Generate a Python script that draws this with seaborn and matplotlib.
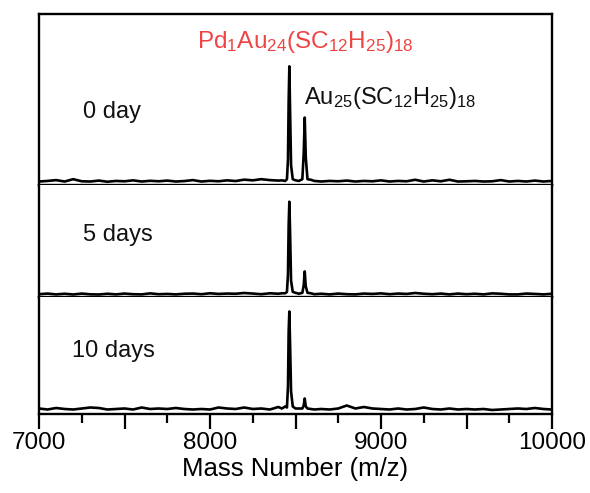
import numpy as np
import pandas as pd
import matplotlib
matplotlib.use("Agg")
import matplotlib.pyplot as plt
import seaborn as sns
from matplotlib.ticker import MultipleLocator, FuncFormatter

sns.set_style("ticks")
plt.rcParams['font.family'] = ['Liberation Sans', 'DejaVu Sans']
plt.rcParams['mathtext.fontset'] = 'custom'
plt.rcParams['mathtext.rm'] = 'Liberation Sans'
plt.rcParams['mathtext.it'] = 'Liberation Sans:italic'
plt.rcParams['mathtext.bf'] = 'Liberation Sans:bold'
plt.rcParams['text.color'] = 'black'
plt.rcParams['axes.labelcolor'] = 'black'
plt.rcParams['xtick.color'] = 'black'

# ---- data ----
mz_low = np.arange(7000, 8401, 50)
mz_peak = [8420, 8440, 8450, 8456, 8460, 8464, 8468, 8474, 8484, 8500,
           8520, 8540, 8548, 8554, 8560, 8570, 8590, 8610]
mz_high = np.arange(8650, 10001, 50)
mz = np.concatenate([mz_low, mz_peak, mz_high])

day0 = ([1.0, 1.5, 2.2, 1.0, 3.0, 1.2, 1.0, 1.8, 0.8, 1.5, 1.2, 2.0, 1.0, 1.6, 1.2,
         1.8, 1.0, 1.4, 2.2, 1.0, 1.6, 1.2, 2.0, 1.4, 2.6, 2.0, 3.0, 2.2, 1.8]
        + [2.0, 1.5, 3, 20, 70, 100, 65, 15, 3, 2, 1.5, 3, 25, 56, 22, 3, 2.5, 1.5]
        + [1.0, 1.5, 1.2, 1.8, 1.0, 1.5, 1.2, 2.0, 1.0, 1.5, 1.2, 2.5, 1.0, 2.0,
           1.2, 2.5, 1.0, 1.2, 1.5, 1.0, 1.2, 2.2, 1.0, 1.5, 1.0, 1.8, 1.0, 1.5])
day5 = ([0.5, 1.2, 0.3, 1.0, 0.2, 1.2, 0.4, 0.2, 1.0, 0.3, 1.2, 0.5, 0.3, 1.4, 0.5,
         0.8, 0.3, 1.0, 1.2, 0.5, 1.5, 0.8, 1.2, 1.0, 1.8, 1.2, 0.5, 1.5, 1.0]
        + [1.5, 1.5, 3, 22, 75, 100, 70, 15, 3, 2, 1, 2, 10, 25, 9, 2, 1.5, 0.5]
        + [1.0, 0.3, 1.2, 0.5, 0.3, 1.2, 0.8, 1.4, 0.5, 1.2, 0.8, 1.8, 1.0, 0.5,
           1.2, 0.3, 1.2, 0.5, 1.0, 0.3, 1.4, 1.0, 0.3, 0.3, 1.2, 0.8, 0.3, 1.0])
day10 = ([3.0, 2.0, 3.5, 2.5, 2.0, 3.0, 4.0, 3.5, 2.0, 2.5, 3.0, 2.0, 4.0, 2.5, 3.0,
          2.5, 3.5, 2.5, 2.0, 2.5, 2.0, 4.0, 3.0, 2.5, 4.0, 2.5, 3.0, 2.0, 4.5]
         + [3, 5, 4, 25, 80, 100, 70, 20, 5, 3, 3, 3, 6, 13, 5, 3, 2.5, 2]
         + [2.5, 2.0, 3.0, 6.0, 3.0, 4.5, 3.0, 2.5, 2.0, 3.0, 2.0, 2.5, 4.0, 2.5,
            2.0, 3.0, 2.0, 2.5, 2.0, 2.5, 1.5, 2.0, 2.5, 3.0, 2.5, 3.5, 2.5, 2.0])

panel_labels = ["0 day", "5 days", "10 days"]
x_ticklabels = ["7000", "8000", "9000", "10000"]

# ---- figure ----
fig = plt.figure(figsize=(5.9, 4.93), dpi=100)
gs = fig.add_gridspec(3, 1, height_ratios=[171, 112, 117], hspace=0,
                      left=39 / 590, right=552 / 590, top=1 - 14 / 493, bottom=1 - 414 / 493)
axes = [fig.add_subplot(gs[i]) for i in range(3)]

series = [day0, day5, day10]
ylims = [(-2, 145), (-2.5, 118), (-2.5, 114.5)]
label_pos = [(7257, 61), (7257, 64), (7193, 60)]

for i, ax in enumerate(axes):
    df = pd.DataFrame({"mz": mz, "intensity": series[i]})
    sns.lineplot(data=df, x="mz", y="intensity", ax=ax, color="black",
                 linewidth=1.9, estimator=None, sort=True)
    ax.set_xlim(7000, 10000)
    ax.set_ylim(*ylims[i])
    ax.set_ylabel("")
    ax.set_xlabel("")
    ax.set_yticks([])
    for s in ax.spines.values():
        s.set_linewidth(1.7)
        s.set_color("black")
    if i > 0:
        ax.spines['top'].set_visible(False)
    ax.text(label_pos[i][0], label_pos[i][1], panel_labels[i], fontsize=17,
            ha="left", va="center", color="#111111")
    if i < 2:
        ax.tick_params(axis="x", which="both", bottom=False, labelbottom=False)

ax = axes[2]
ax.xaxis.set_major_locator(MultipleLocator(500))
ax.xaxis.set_minor_locator(MultipleLocator(250))
ax.xaxis.set_major_formatter(FuncFormatter(lambda v, p: f"{int(v)}" if int(v) % 1000 == 0 else ""))
ax.tick_params(axis="x", which="major", direction="out", length=11, width=1.6,
               labelsize=17.5, pad=2)
ax.tick_params(axis="x", which="minor", direction="out", length=6.5, width=1.6)
ax.set_xlabel("Mass Number (m/z)", fontsize=18.5, labelpad=2)

axes[0].text(8557, 121, r"Pd$_1$Au$_{24}$(SC$_{12}$H$_{25}$)$_{18}$", color="#ee4444",
             fontsize=17.5, ha="center", va="center")
axes[0].text(8550, 72.5, r"Au$_{25}$(SC$_{12}$H$_{25}$)$_{18}$", color="#111111",
             fontsize=17, ha="left", va="center")

fig.savefig("out.png", dpi=100)
